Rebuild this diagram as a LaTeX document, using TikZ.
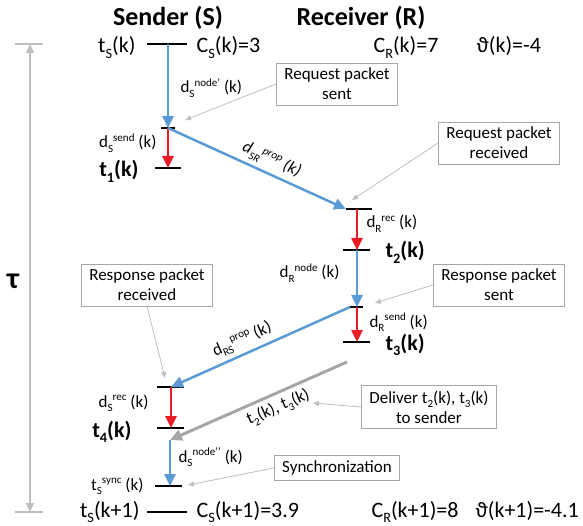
\documentclass[tikz,border=0pt]{standalone}
\usepackage{fontspec}
\setmainfont{Carlito}
\usetikzlibrary{arrows.meta}

\definecolor{lineblue}{RGB}{91,155,213}
\definecolor{linered}{RGB}{237,28,36}
\definecolor{linegray}{RGB}{166,166,166}
\definecolor{notegray}{RGB}{191,191,191}

% small raised and lowered text that follows the current font size
\makeatletter
\newcommand\subtxt[1]{\raisebox{-0.24em}{\dimen@=\f@size pt\dimen@=0.65\dimen@\fontsize{\strip@pt\dimen@}{0}\selectfont #1}}
\newcommand\suptxt[1]{\raisebox{0.36em}{\dimen@=\f@size pt\dimen@=0.65\dimen@\fontsize{\strip@pt\dimen@}{0}\selectfont #1}}
\makeatother

\begin{document}
\begin{tikzpicture}[x=1pt,y=-1pt,line cap=butt,
    >={Triangle[length=12pt,width=11pt]},
    head/.style={font=\bfseries\fontsize{26}{30}\selectfont},
    big/.style={font=\fontsize{22}{26}\selectfont},
    bigbold/.style={font=\bfseries\fontsize{22}{26}\selectfont},
    small/.style={font=\fontsize{17}{20}\selectfont,text=black},
    tickline/.style={line width=2.5pt,black},
    bluearrow/.style={->,line width=2.5pt,lineblue},
    redarrow/.style={->,line width=2.5pt,linered},
    grayarrow/.style={->,line width=3pt,linegray},
    note/.style={draw=linegray,line width=0.8pt,fill=white,align=center,
        inner xsep=8pt,inner ysep=5pt,font=\fontsize{17}{20}\selectfont},
    notearrow/.style={-{Triangle[length=6pt,width=5pt]},line width=0.8pt,notegray},
    axisline/.style={line width=1.2pt,notegray}]
    \useasboundingbox (0,0) rectangle (583,526);

    % draw the time axis
    \coordinate (ttop) at (30,44);
    \coordinate (tbot) at (30,512);
    \draw[axisline] (15,44) -- (43,44) (15,512) -- (43,512);
    \draw[axisline,{Triangle[length=9pt,width=8pt]}-{Triangle[length=9pt,width=8pt]}] (ttop) -- (tbot);
    \node[font=\bfseries\fontsize{30}{32}\selectfont] (tau) at (13,281) {τ};

    % headings
    \node[head] (sender) at (168,18) {Sender (S)};
    \node[head] (receiver) at (361,18) {Receiver (R)};

    % points on the sender and receiver lines
    \coordinate (s0) at (168,44);
    \coordinate (s1) at (168,128);
    \coordinate (s2) at (168,168);
    \coordinate (r1) at (357,209);
    \coordinate (r1w) at (346,209);
    \coordinate (r2) at (357,250);
    \coordinate (r3) at (357,307);
    \coordinate (r3w) at (350,307);
    \coordinate (r4) at (357,342);
    \coordinate (s4) at (171,387);
    \coordinate (s5) at (171,428);
    \coordinate (g0) at (347,362);
    \coordinate (g1) at (170,440);
    \coordinate (s6) at (170,486);
    \coordinate (s7) at (168,512);

    % draw the ticks
    \draw[tickline] (s0) ++(-21,0) -- ++(40,0);
    \draw[tickline] (s1) ++(-7,0) -- ++(14,0);
    \draw[tickline] (s2) ++(-13,0) -- ++(26,0);
    \draw[tickline] (r1) ++(-11,0) -- ++(26,0);
    \draw[tickline] (r2) ++(-14,0) -- ++(27,0);
    \draw[tickline] (r3) ++(-7,0) -- ++(13,0);
    \draw[tickline] (r4) ++(-14,0) -- ++(27,0);
    \draw[tickline] (s4) ++(-14,0) -- ++(27,0);
    \draw[tickline] (s5) ++(-14,0) -- ++(27,0);
    \draw[tickline] (s6) ++(-15,0) -- ++(27,0);
    \draw[tickline] (s7) ++(-21,0) -- ++(40,0);

    % clock values
    \node[big,anchor=base east] (ts) at (139,53) {t\subtxt{S}(k)};
    \node[big,anchor=base west] (cs) at (193,53) {C\subtxt{S}(k)=3};
    \node[big,anchor=base west] (cr) at (370,53) {C\subtxt{R}(k)=7};
    \node[big,anchor=base west] (th) at (473,53) {ϑ(k)=-4};
    \node[big,anchor=base east] (tsn) at (143,517) {t\subtxt{S}(k+1)};
    \node[big,anchor=base west] (csn) at (193,517) {C\subtxt{S}(k+1)=3.9};
    \node[big,anchor=base west] (crn) at (368,517) {C\subtxt{R}(k+1)=8};
    \node[big,anchor=base west] (thn) at (472,517) {ϑ(k+1)=-4.1};

    % the packet exchange
    \draw[bluearrow] (s0) -- (s1);
    \draw[redarrow] (s1) -- (s2);
    \draw[bluearrow] (s1) -- node[small,sloped,above=1pt,pos=0.55] (dsr) {\textit{d\subtxt{SR}\suptxt{prop} (k)}} (r1w);
    \draw[redarrow] (r1) -- (r2);
    \draw[bluearrow] (r2) -- (r3);
    \draw[redarrow] (r3) -- (r4);
    \draw[bluearrow] (r3w) -- node[small,sloped,above=1pt,pos=0.57] (drs) {d\subtxt{RS}\suptxt{prop} (k)} (s4);
    \draw[redarrow] (s4) -- (s5);
    \draw[grayarrow] (g0) -- node[small,sloped,below=1pt,pos=0.42] (dlv) {t\subtxt{2}(k), t\subtxt{3}(k)} (g1);
    \draw[bluearrow] (g1) -- (s6);

    % delay labels
    \node[small,anchor=base west] (dsnode) at (177,93) {d\subtxt{S}\suptxt{node’} (k)};
    \node[small,anchor=base east] (dssend) at (160,148) {d\subtxt{S}\suptxt{send} (k)};
    \node[bigbold,anchor=base east] (t1) at (142,177) {t\subtxt{1}(k)};
    \node[small,anchor=base west] (drrec) at (363,228) {d\subtxt{R}\suptxt{rec} (k)};
    \node[bigbold,anchor=base west] (t2) at (382,258) {t\subtxt{2}(k)};
    \node[small,anchor=base east] (drnode) at (343,278) {d\subtxt{R}\suptxt{node} (k)};
    \node[small,anchor=base west] (drsend) at (366,327) {d\subtxt{R}\suptxt{send} (k)};
    \node[bigbold,anchor=base west] (t3) at (382,350) {t\subtxt{3}(k)};
    \node[small,anchor=base east] (dsrec) at (152,407) {d\subtxt{S}\suptxt{rec} (k)};
    \node[bigbold,anchor=base east] (t4) at (135,437) {t\subtxt{4}(k)};
    \node[small,anchor=base west] (dsnode2) at (175,462) {d\subtxt{S}\suptxt{node’’} (k)};
    \node[small,anchor=base east] (tsync) at (147,490) {t\subtxt{S}\suptxt{sync} (k)};

    % notes and their pointers
    \node[note] (n1) at (337,84) {Request packet\\sent};
    \node[note] (n2) at (499,143) {Request packet\\received};
    \node[note] (n3) at (147,285) {Response packet\\received};
    \node[note] (n4) at (499,285) {Response packet\\sent};
    \node[note] (n5) at (429,407) {Deliver t\subtxt{2}(k), t\subtxt{3}(k)\\to sender};
    \node[note] (n6) at (337,468) {Synchronization};
    \coordinate (p1) at (185,120);
    \coordinate (p2) at (352,200);
    \coordinate (p3) at (165,378);
    \coordinate (p4) at (375,303);
    \coordinate (p5) at (313,403);
    \coordinate (p6) at (188,485);
    \draw[notearrow] (n1.west) -- (p1);
    \draw[notearrow] (n2.west) -- (p2);
    \draw[notearrow] (n3.south) -- (p3);
    \draw[notearrow] (n4.west) -- (p4);
    \draw[notearrow] (n5.west) -- (p5);
    \draw[notearrow] (n6.west) -- (p6);
\end{tikzpicture}
\end{document}
